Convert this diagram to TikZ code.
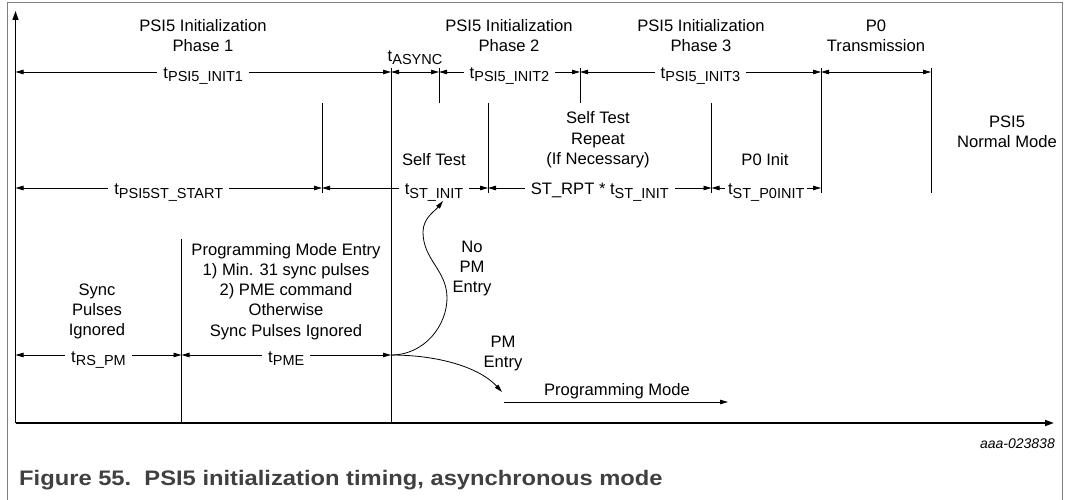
\documentclass[tikz,border=0pt]{standalone}
\usepackage{fontspec}
\setmainfont{Liberation Sans}
\usetikzlibrary{arrows.meta}
\definecolor{framegray}{RGB}{128,128,128}
\definecolor{capgray}{RGB}{64,64,64}
\newcommand\tsub[1]{t\raisebox{-3pt}{\fontsize{14.5}{14.5}\selectfont #1}}
\newcommand\stk[1]{\begin{tabular}[t]{@{}c@{}}#1\end{tabular}}
\newcommand\lfont{\fontsize{16.6}{20.3}\selectfont}
\begin{document}
\begin{tikzpicture}[x=1pt,y=-1pt,
  tick/.style={line width=0.9pt},
  dimarr/.style={{Triangle[length=8pt,width=4.5pt]}-{Triangle[length=8pt,width=4.5pt]}, line width=0.8pt},
  onearr/.style={-{Triangle[length=8pt,width=4.5pt]}, line width=0.8pt},
  axisarr/.style={-{Triangle[length=9pt,width=6pt]}, line width=1.4pt},
  dlab/.style={fill=white, inner xsep=6pt, inner ysep=1pt, font=\lfont, anchor=base, yshift=-7pt},
  txt/.style={font=\lfont, anchor=base, inner sep=0pt},
]
\useasboundingbox (0,0) rectangle (1069,500);
\draw[framegray, line width=1pt] (7.3,500) -- (7.3,2.7) -- (1062,2.7) -- (1062,500);

% axes
\coordinate (O) at (15.5,423);
\coordinate (Ytop) at (15.5,11);
\coordinate (Xend) at (1054,423);
\draw[axisarr] (O) -- (Ytop);
\draw[axisarr, line width=1.7pt] (O) -- (Xend);

% vertical marks
\draw[tick] (322,103) -- (322,193);
\draw[tick] (181.5,239) -- (181.5,423);
\draw[tick] (391,68) -- (391,423);
\draw[tick] (439,68) -- (439,103);
\draw[tick] (488,103) -- (488,193);
\draw[tick] (580,68) -- (580,103);
\draw[tick] (711.5,103) -- (711.5,193);
\draw[tick] (821,68) -- (821,193);
\draw[tick] (931,68) -- (931,193);

% row coordinates
\coordinate (a0) at (15.5,72);
\coordinate (a1) at (391,72);
\coordinate (a2) at (439,72);
\coordinate (a3) at (580,72);
\coordinate (a4) at (821,72);
\coordinate (a5) at (931,72);
\coordinate (b0) at (15.5,188);
\coordinate (b1) at (322,188);
\coordinate (b2) at (488,188);
\coordinate (b3) at (711.5,188);
\coordinate (b4) at (821,188);
\coordinate (c0) at (15.5,355);
\coordinate (c1) at (181.5,355);
\coordinate (c2) at (391,355);

% dimension arrows
\draw[dimarr] (a0) -- node[dlab]{\tsub{PSI5\_INIT1}} (a1);
\draw[dimarr] (a1) -- (a2);
\draw[dimarr] (a2) -- node[dlab]{\tsub{PSI5\_INIT2}} (a3);
\draw[dimarr] (a3) -- node[dlab]{\tsub{PSI5\_INIT3}} (a4);
\draw[dimarr] (a4) -- (a5);
\draw[dimarr] (b0) -- node[dlab]{\tsub{PSI5ST\_START}} (b1);
\draw[dimarr] (b1) -- node[dlab,pos=0.675]{\tsub{ST\_INIT}} (b2);
\draw[dimarr] (b2) -- node[dlab]{ST\_RPT * \tsub{ST\_INIT}} (b3);
\draw[dimarr] (b3) -- node[dlab, inner xsep=3pt]{\tsub{ST\_P0INIT}} (b4);
\draw[dimarr] (c0) -- node[dlab]{\tsub{RS\_PM}} (c1);
\draw[dimarr] (c1) -- node[dlab]{\tsub{PME}} (c2);

% branch curves
\coordinate (np1) at (447,298);
\coordinate (np2) at (423,232);
\coordinate (npEnd) at (443,201);
\coordinate (pmEnd) at (502,392);
\draw[onearr] (c2) .. controls (425,355) and (447,325) .. (np1)
  .. controls (447,270) and (423,260) .. (np2)
  .. controls (423,218) and (435,211) .. (npEnd);
\draw[onearr] (c2) .. controls (440,355) and (480,368) .. (pmEnd);
\coordinate (pm1) at (504,402);
\coordinate (pm2) at (728,402);
\draw[onearr] (pm1) -- (pm2);

% texts
\node[txt] (ph1) at (203,31.5) {\stk{PSI5 Initialization\\Phase 1}};
\node[txt] (ph2) at (509,31.5) {\stk{PSI5 Initialization\\Phase 2}};
\node[txt] (ph3) at (701,31.5) {\stk{PSI5 Initialization\\Phase 3}};
\node[txt] (p0t) at (876,31.5) {\stk{P0\\Transmission}};
\node[txt] (async) at (415,62) {\tsub{ASYNC}};
\node[txt] (norm) at (1007,127.5) {\stk{PSI5\\Normal Mode}};
\node[txt] (strep) at (598,124) {\stk{Self Test\\Repeat\\(If Necessary)}};
\node[txt] (st) at (434,165.5) {Self Test};
\node[txt] (p0i) at (765,165.5) {P0 Init};
\node[txt] (sync) at (97,295) {\stk{Sync\\Pulses\\Ignored}};
\node[txt] (pme) at (286,255) {\stk{Programming Mode Entry\\1) Min. 31 sync pulses\\2) PME command\\Otherwise\\Sync Pulses Ignored}};
\node[txt] (nopm) at (472,252) {\stk{No\\PM\\Entry}};
\node[txt] (pmen) at (503,347) {\stk{PM\\Entry}};
\node[txt] (pmode) at (617,395) {Programming Mode};
\node[txt, anchor=base east, font=\itshape\fontsize{14}{16}\selectfont] (code) at (1055,448) {aaa-023838};
\node[inner sep=0pt, anchor=base west, text=capgray, font=\bfseries\fontsize{21}{24}\selectfont] (cap) at (19,485)
  {\scalebox{1.13}[1]{Figure 55.\ \ PSI5 initialization timing, asynchronous mode}};
\end{tikzpicture}
\end{document}
